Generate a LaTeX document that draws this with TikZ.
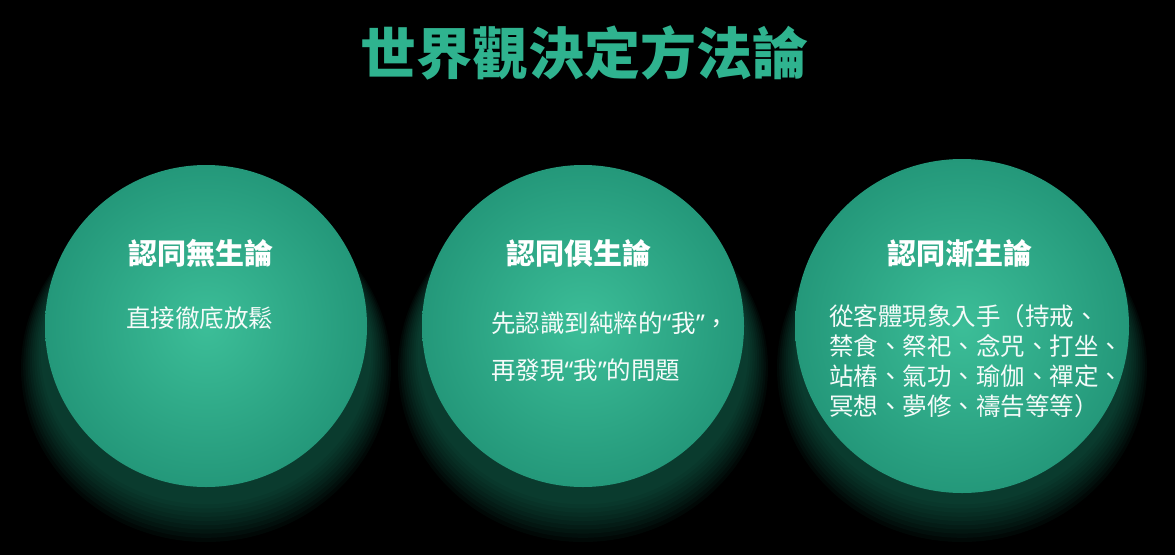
\documentclass[tikz,border=0pt]{standalone}
\usepackage{fontspec}
\newfontfamily\cjk{Noto Sans CJK TC}
\newfontfamily\latin{Noto Sans}
\newcommand{\myopenq}{{\latin “}}
\newcommand{\mycloseq}{{\latin ”}}
\usetikzlibrary{shadings}
\definecolor{teal1}{HTML}{2FB38F}
\definecolor{ballin}{HTML}{3CBE98}
\definecolor{ballout}{HTML}{24987A}
\definecolor{glow}{HTML}{1E8A6C}
\tikzset{
  ball/.style={circle, minimum size=322pt, inner sep=0pt, draw=none, inner color=ballin, outer color=ballout},
  head/.style={font=\cjk\bfseries\fontsize{29}{32}\selectfont, text=white},
  body/.style={font=\cjk\fontsize{24.5}{30}\selectfont, text=white!95!teal1, align=left, anchor=north west, inner sep=0pt},
  title/.style={font=\cjk\bfseries\fontsize{56}{60}\selectfont, text=teal1},
}
\begin{document}
\begin{tikzpicture}[x=1pt,y=-1pt]
\fill[black] (0,0) rectangle (1175,555);
\useasboundingbox (0,0) rectangle (1175,555);
% glows
\foreach \cx in {206,583,962}{
  \foreach \i in {1,...,10}{
    \fill[glow, opacity=0.06] (\cx, 350+\i*1.8) ellipse ({163+\i*2.2} and {150+\i*2.4});
  }
}
\node[title] (t) at (584,53) {世界觀決定方法論};
\node[ball] (b1) at (206,326) {};
\node[ball] (b2) at (583,326) {};
\node[ball, minimum size=334pt] (b3) at (962,326) {};
\node[head] (h1) at (201,253) {認同無生論};
\node[head] (h2) at (579,253) {認同俱生論};
\node[head] (h3) at (960,253) {認同漸生論};
\node[body] (x1) at (126,307) {直接徹底放鬆};
\node[body, font=\cjk\fontsize{24.5}{47}\selectfont] (x2) at (491,312) {先認識到純粹的\myopenq 我\mycloseq ，\\再發現\myopenq 我\mycloseq 的問題};
\node[body] (x3) at (829,304) {從客體現象入手（持戒、\\禁食、祭祀、念咒、打坐、\\站樁、氣功、瑜伽、禪定、\\冥想、夢修、禱告等等）};
\end{tikzpicture}
\end{document}
